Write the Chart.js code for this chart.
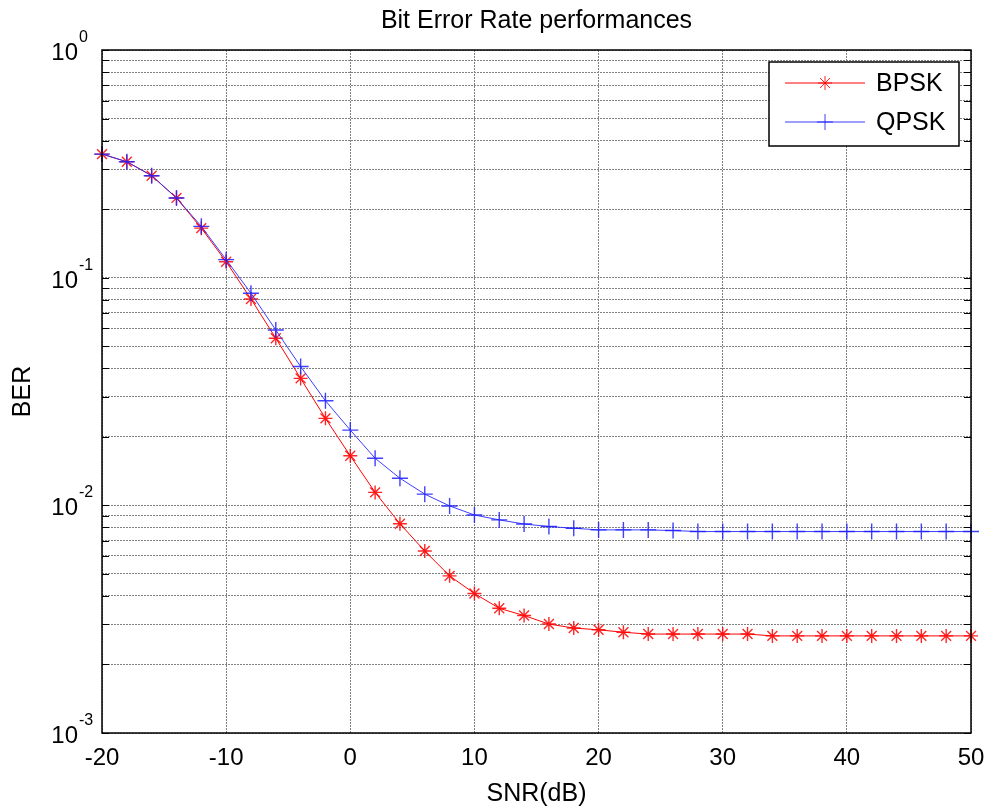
<!DOCTYPE html>
<html>
<head>
<meta charset="utf-8">
<title>Bit Error Rate performances</title>
<script src="https://cdn.jsdelivr.net/npm/chart.js@4.4.0/dist/chart.umd.min.js"></script>
<style>
  body { margin: 0; background: #fff; }
  #wrap { width: 989px; height: 810px; }
</style>
</head>
<body>
<div id="wrap"><canvas id="graficoBER" width="989" height="810"></canvas></div>
<script>
// SNR en dB (eje x)
const snr = [-20, -18, -16, -14, -12, -10, -8, -6, -4, -2, 0, 2, 4, 6, 8, 10, 12, 14,
             16, 18, 20, 22, 24, 26, 28, 30, 32, 34, 36, 38, 40, 42, 44, 46, 48, 50];

const berBPSK = [0.349, 0.323, 0.2805, 0.224, 0.165, 0.1175, 0.0806, 0.0542, 0.0361, 0.0241,
                 0.0165, 0.0114, 0.0083, 0.0063, 0.0049, 0.0041, 0.00353, 0.00328, 0.00301, 0.00289,
                 0.00284, 0.00277, 0.00272, 0.00272, 0.00272, 0.00272, 0.00272, 0.00267, 0.00267, 0.00267,
                 0.00267, 0.00267, 0.00267, 0.00267, 0.00267, 0.00267];

const berQPSK = [0.349, 0.323, 0.2805, 0.224, 0.168, 0.12, 0.0854, 0.0589, 0.0407, 0.0288,
                 0.0214, 0.0161, 0.01315, 0.0112, 0.00994, 0.00907, 0.00863, 0.00828, 0.00807, 0.00793,
                 0.0078, 0.0078, 0.0078, 0.00775, 0.00767, 0.00767, 0.00767, 0.00767, 0.00767, 0.00767,
                 0.00767, 0.00767, 0.00767, 0.00767, 0.00767, 0.00767];

// marcas del eje y (log): decadas y subdivisiones
const yTicks = [0.001, 0.002, 0.003, 0.004, 0.005, 0.006, 0.007, 0.008, 0.009,
                0.01, 0.02, 0.03, 0.04, 0.05, 0.06, 0.07, 0.08, 0.09,
                0.1, 0.2, 0.3, 0.4, 0.5, 0.6, 0.7, 0.8, 0.9, 1];
const yDecades = [1, 0.1, 0.01, 0.001];
const yExponents = ['0', '-1', '-2', '-3'];

const FONT = "'Liberation Sans', Arial, Helvetica, sans-serif";

// titulo, marco, etiquetas 10^n y leyenda al estilo MATLAB
const matlabStyle = {
    id: 'matlabStyle',
    afterDraw(chart) {
        const ctx = chart.ctx;
        const a = chart.chartArea;
        const yScale = chart.scales.y;
        ctx.save();

        // marcas internas en los bordes izquierdo y derecho
        ctx.strokeStyle = '#000';
        ctx.lineWidth = 1;
        yTicks.forEach(v => {
            const py = Math.round(yScale.getPixelForValue(v)) + 0.5;
            ctx.beginPath();
            ctx.moveTo(a.left, py); ctx.lineTo(a.left + 7, py);
            ctx.moveTo(a.right, py); ctx.lineTo(a.right - 7, py);
            ctx.stroke();
        });

        // marco
        ctx.lineWidth = 1.5;
        ctx.strokeRect(a.left, a.top, a.right - a.left, a.bottom - a.top);

        // etiquetas 10^n
        ctx.fillStyle = '#000';
        yDecades.forEach((v, i) => {
            const py = yScale.getPixelForValue(v);
            ctx.textBaseline = 'alphabetic';
            ctx.textAlign = 'right';
            ctx.font = '24px ' + FONT;
            ctx.fillText('10', 78, py + 10);
            ctx.textAlign = 'left';
            ctx.font = '16px ' + FONT;
            ctx.fillText(yExponents[i], 79, py - 8);
        });

        // titulo
        ctx.font = '25px ' + FONT;
        ctx.textAlign = 'center';
        ctx.textBaseline = 'alphabetic';
        ctx.fillText('Bit Error Rate performances', (a.left + a.right) / 2, 28);

        // leyenda
        const lx = 769, ly = 62, lw = 190, lh = 84;
        ctx.fillStyle = '#fff';
        ctx.fillRect(lx, ly, lw, lh);
        ctx.strokeStyle = '#000';
        ctx.lineWidth = 1.5;
        ctx.strokeRect(lx, ly, lw, lh);
        const rows = [83, 122];
        chart.data.datasets.forEach((ds, i) => {
            const y = rows[i];
            ctx.strokeStyle = ds.borderColor;
            ctx.lineWidth = ds.borderWidth;
            ctx.beginPath();
            ctx.moveTo(785, y); ctx.lineTo(865, y);
            ctx.stroke();
            ctx.strokeStyle = ds.pointBorderColor;
            Chart.helpers.drawPoint(ctx, {
                pointStyle: ds.pointStyle,
                radius: ds.pointRadius,
                borderWidth: ds.pointBorderWidth,
                rotation: 0
            }, 825, y);
            ctx.fillStyle = '#000';
            ctx.font = '25px ' + FONT;
            ctx.textAlign = 'left';
            ctx.textBaseline = 'middle';
            ctx.fillText(ds.label, 876, y + 1);
        });
        ctx.restore();
    }
};

const ctx = document.getElementById('graficoBER').getContext('2d');
new Chart(ctx, {
    type: 'line',
    data: {
        labels: snr,
        datasets: [{
            label: 'BPSK',
            data: snr.map((x, i) => ({ x: x, y: berBPSK[i] })),
            borderColor: '#ff0000',
            backgroundColor: 'transparent',
            borderWidth: 1,
            pointStyle: 'star',
            pointRadius: 7,
            pointBorderColor: 'rgba(255, 0, 0, 0.85)',
            pointBorderWidth: 1.4,
            pointHoverRadius: 7,
            tension: 0,
            clip: false,
            order: 2
        }, {
            label: 'QPSK',
            data: snr.map((x, i) => ({ x: x, y: berQPSK[i] })),
            borderColor: 'rgba(40, 40, 255, 0.9)',
            backgroundColor: 'transparent',
            borderWidth: 1,
            pointStyle: 'cross',
            pointRadius: 8,
            pointBorderColor: 'rgba(30, 30, 255, 0.85)',
            pointBorderWidth: 1.4,
            pointHoverRadius: 8,
            tension: 0,
            clip: false,
            order: 1
        }]
    },
    options: {
        responsive: false,
        animation: false,
        devicePixelRatio: 1,
        layout: { padding: { top: 50, right: 18, left: 0, bottom: 0 } },
        plugins: {
            legend: { display: false },
            tooltip: { enabled: false },
            title: { display: false }
        },
        scales: {
            x: {
                type: 'linear',
                min: -20,
                max: 50,
                afterFit: s => { s.height = 77; s.paddingLeft = 0; s.paddingRight = 0; },
                ticks: {
                    stepSize: 10,
                    color: '#000',
                    font: { family: FONT, size: 24 },
                    padding: 11,
                    maxRotation: 0
                },
                grid: { color: '#808080', lineWidth: 1, drawTicks: false },
                border: { display: false, dash: [2, 1] },
                title: {
                    display: true,
                    text: 'SNR(dB)',
                    color: '#000',
                    font: { family: FONT, size: 25 },
                    padding: { top: 0, bottom: 1 }
                }
            },
            y: {
                type: 'logarithmic',
                min: 0.001,
                max: 1,
                afterFit: s => { s.width = 102; s.paddingTop = 0; s.paddingBottom = 0; },
                afterBuildTicks: s => { s.ticks = yTicks.map(v => ({ value: v })); },
                ticks: {
                    autoSkip: false,
                    callback: () => ''
                },
                grid: { color: '#808080', lineWidth: 1, drawTicks: false },
                border: { display: false, dash: [2, 1] },
                title: {
                    display: true,
                    text: 'BER',
                    color: '#000',
                    font: { family: FONT, size: 25 },
                    padding: { top: 8, bottom: 0 }
                }
            }
        }
    },
    plugins: [matlabStyle]
});
</script>
</body>
</html>
